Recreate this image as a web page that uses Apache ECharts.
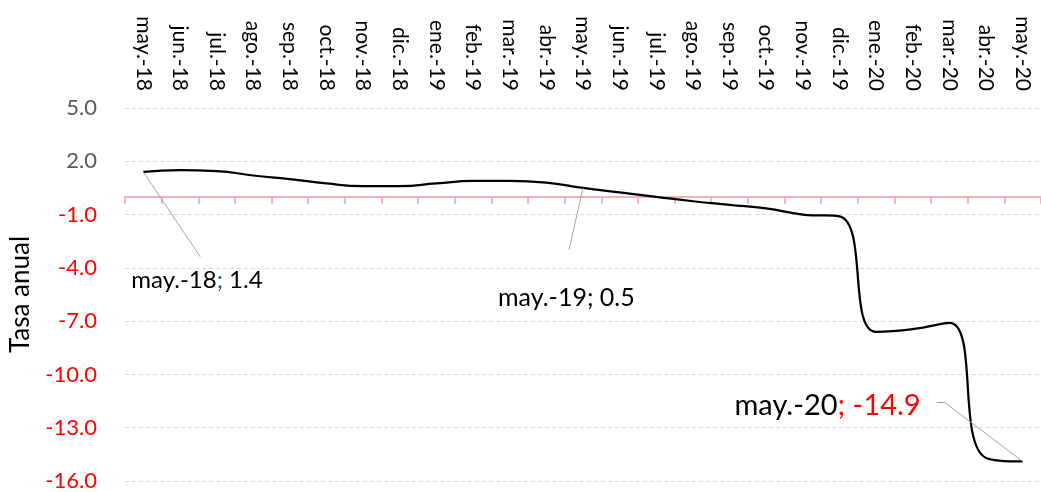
<!DOCTYPE html>
<html>
<head>
<meta charset="utf-8">
<script src="https://cdn.jsdelivr.net/npm/echarts@6/dist/echarts.min.js"></script>
<style>
  html, body { margin: 0; padding: 0; background: #fff; }
  #chart { width: 1041px; height: 492px; }
</style>
</head>
<body>
<div id="chart"></div>
<script>
// Monthly periods, May 2018 to May 2020
const months = ['may.-18', 'jun.-18', 'jul.-18', 'ago.-18', 'sep.-18', 'oct.-18', 'nov.-18', 'dic.-18',
  'ene.-19', 'feb.-19', 'mar.-19', 'abr.-19', 'may.-19', 'jun.-19', 'jul.-19', 'ago.-19', 'sep.-19',
  'oct.-19', 'nov.-19', 'dic.-19', 'ene.-20', 'feb.-20', 'mar.-20', 'abr.-20', 'may.-20'];

// Annual rate (%)
const tasaAnual = [1.4, 1.5, 1.45, 1.2, 1.0, 0.75, 0.6, 0.6,
  0.75, 0.9, 0.9, 0.8, 0.5, 0.25, 0.0, -0.25, -0.45,
  -0.65, -1.0, -1.1, -7.6, -7.45, -7.1, -14.7, -14.9];

// Value axis range and step
const yMin = -16, yMax = 5, yStep = 3;

// Points that carry a callout
const calloutMonths = ['may.-18', 'may.-19', 'may.-20'];

const FONT = 'Lato, "Open Sans", sans-serif';
const chart = echarts.init(document.getElementById('chart'), null, { renderer: 'canvas' });

chart.setOption({
  animation: false,
  backgroundColor: '#ffffff',
  grid: { left: 123, right: 0, top: 108, bottom: 9, containLabel: false },
  xAxis: [
    {
      type: 'category',
      data: months,
      position: 'top',
      boundaryGap: true,
      axisLine: { show: false, onZero: false },
      axisTick: { show: false },
      splitLine: { show: false },
      axisLabel: {
        interval: 0,
        rotate: 90,
        margin: 17,
        color: '#000000',
        fontFamily: FONT,
        fontSize: 21
      }
    },
    {
      type: 'category',
      data: months,
      position: 'bottom',
      boundaryGap: true,
      axisLine: { show: true, onZero: true, lineStyle: { color: '#F2B5B5', width: 2 } },
      axisTick: { show: true, interval: 0, inside: false, length: 7, lineStyle: { color: '#F2B5B5', width: 2 } },
      axisLabel: { show: false },
      splitLine: { show: false }
    }
  ],
  yAxis: {
    type: 'value',
    min: yMin,
    max: yMax,
    interval: yStep,
    name: 'Tasa anual',
    nameLocation: 'middle',
    nameRotate: 90,
    nameGap: 91,
    nameTextStyle: { color: '#000000', fontFamily: FONT, fontSize: 26 },
    axisLine: { show: false },
    axisTick: { show: false },
    axisLabel: {
      margin: 28,
      fontFamily: FONT,
      fontSize: 22,
      formatter: v => v.toFixed(1),
      color: v => (v < 0 ? '#FF0000' : '#595959')
    },
    splitLine: { show: true, lineStyle: { color: '#D9D9D9', width: 1, type: [4, 3] } }
  },
  series: [{
    type: 'line',
    xAxisIndex: 0,
    data: tasaAnual,
    smooth: 0.5,
    symbol: 'none',
    lineStyle: { color: '#000000', width: 2.25 },
    z: 5
  }]
});

// Callouts: leader line from the data point to a "month; value" text
const calloutStyle = {
  'may.-18': { size: 24, valueColor: '#000000', sepColor: '#1F4E79', tx: -12, ty: 108, align: 'left', line: [[57, 85]] },
  'may.-19': { size: 25, valueColor: '#000000', sepColor: '#000000', tx: -85, ty: 110, align: 'left', line: [[-14, 62]] },
  'may.-20': { size: 29, valueColor: '#FF0000', sepColor: '#FF0000', tx: -102, ty: -56, align: 'right', line: [[-78, -59], [-86, -59]] }
};

const graphics = [];
calloutMonths.forEach(m => {
  const i = months.indexOf(m);
  const v = tasaAnual[i];
  const p = chart.convertToPixel({ xAxisIndex: 0, yAxisIndex: 0 }, [i, v]);
  const s = calloutStyle[m];
  const pts = [p].concat(s.line.map(d => [p[0] + d[0], p[1] + d[1]]));
  graphics.push({
    type: 'polyline',
    shape: { points: pts },
    style: { stroke: '#A6A6A6', lineWidth: 1, fill: null },
    z: 10
  });
  graphics.push({
    type: 'text',
    x: p[0] + s.tx,
    y: p[1] + s.ty,
    z: 10,
    style: {
      text: '{m|' + m + '}{s|; }{v|' + v.toFixed(1) + '}',
      align: s.align,
      verticalAlign: 'middle',
      rich: {
        m: { fontFamily: FONT, fontSize: s.size, fill: '#000000' },
        s: { fontFamily: FONT, fontSize: s.size, fill: s.sepColor },
        v: { fontFamily: FONT, fontSize: s.size, fill: s.valueColor }
      }
    }
  });
});
chart.setOption({ graphic: graphics });
</script>
</body>
</html>
